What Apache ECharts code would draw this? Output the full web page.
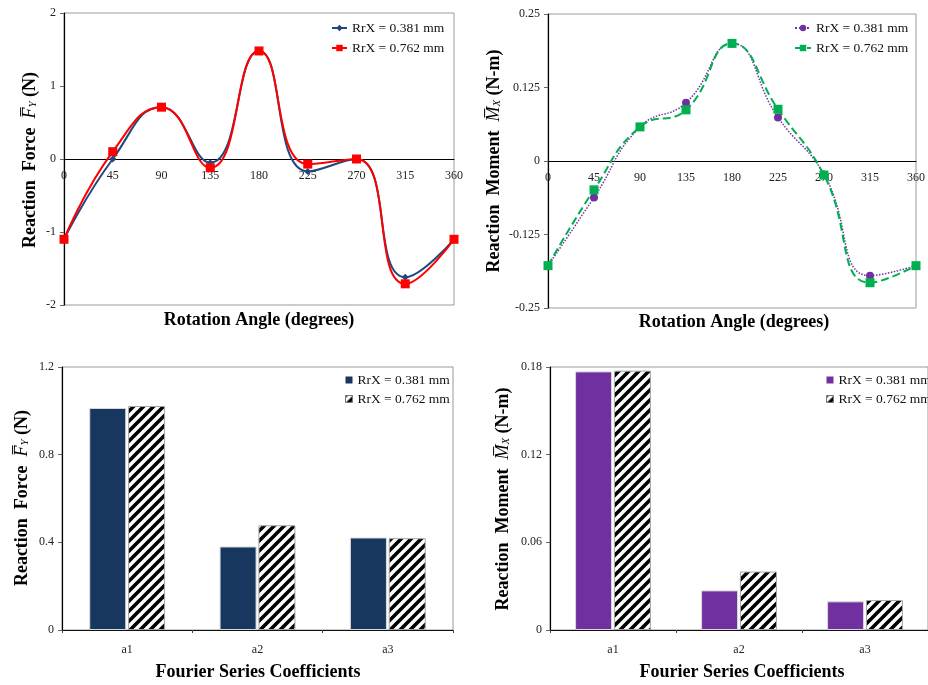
<!DOCTYPE html>
<html>
<head>
<meta charset="utf-8">
<script src="https://cdn.jsdelivr.net/npm/echarts@6/dist/echarts.min.js"></script>
<style>
html,body{margin:0;padding:0;background:#fff;}
#chart{width:928px;height:685px;}
</style>
</head>
<body>
<div id="chart"></div>
<script>
// ---- data ----
const angles = [0, 45, 90, 135, 180, 225, 270, 315, 360];
const fy381 = [-1.10, 0.00, 0.71, -0.05, 1.48, -0.17, 0.00, -1.62, -1.10];
const fy762 = [-1.10, 0.10, 0.71, -0.12, 1.48, -0.07, 0.00, -1.71, -1.10];
const mx381 = [-0.178, -0.062, 0.058, 0.099, 0.200, 0.074, -0.023, -0.195, -0.178];
const mx762 = [-0.178, -0.049, 0.058, 0.087, 0.200, 0.088, -0.024, -0.207, -0.178];
const coeffs = ['a1', 'a2', 'a3'];
const fyCoef381 = [1.013, 0.381, 0.422];
const fyCoef762 = [1.022, 0.478, 0.419];
const mxCoef381 = [0.177, 0.0271, 0.0196];
const mxCoef762 = [0.1775, 0.040, 0.0205];
const seriesNames = ['RrX = 0.381 mm', 'RrX = 0.762 mm'];
const angleTicks = [0, 360, 45];
const fyRange = [-2, 2, 1];
const mxRange = [-0.25, 0.25, 0.125];
const fyCoefRange = [0, 1.2, 0.4];
const mxCoefRange = [0, 0.18, 0.06];

// ---- helpers ----
const SERIF = '"Liberation Serif", "Times New Roman", serif';
function pairs(xs, ys) { return xs.map((x, i) => [x, ys[i]]); }

function hatch() {
  const c = document.createElement('canvas');
  const s = 10;
  c.width = s; c.height = s;
  const g = c.getContext('2d');
  g.fillStyle = '#fff';
  g.fillRect(0, 0, s, s);
  g.strokeStyle = '#000';
  g.lineWidth = 3.6;
  g.lineCap = 'square';
  for (let k = -1; k <= 1; k++) {
    g.beginPath();
    g.moveTo(k * s - 1, s + 1);
    g.lineTo(k * s + s + 1, -1);
    g.stroke();
  }
  return { image: c, repeat: 'repeat' };
}
const hatchFill = hatch();

const gridBoxes = [
  { left: 64, top: 13, width: 390, height: 292 },
  { left: 548, top: 14, width: 372, height: 294 },
  { left: 62, top: 367, width: 391, height: 263 },
  { left: 550, top: 367, width: 384, height: 263 }
];
const grids = gridBoxes.map(g => Object.assign({ show: true, borderColor: '#9a9a9a', borderWidth: 1, backgroundColor: 'transparent', containLabel: false }, g));

const labelStyle = { fontFamily: SERIF, fontSize: 12, color: '#222' };

// x axis crossing at y = 0 (moved with offset, measured from the grid bottom)
function valueX(gi, yr) {
  const h = gridBoxes[gi].height;
  const zeroFrac = (0 - yr[0]) / (yr[1] - yr[0]);
  return {
    type: 'value', gridIndex: gi, min: angleTicks[0], max: angleTicks[1], interval: angleTicks[2],
    position: 'bottom', offset: -h * zeroFrac,
    axisLine: { show: true, onZero: false, lineStyle: { color: '#000', width: 1 } },
    axisTick: { show: false },
    axisLabel: Object.assign({ margin: 11, showMinLabel: true, showMaxLabel: true }, labelStyle),
    splitLine: { show: false }
  };
}
function valueY(gi, r) {
  return {
    type: 'value', gridIndex: gi, min: r[0], max: r[1], interval: r[2],
    axisLine: { show: true, onZero: false, lineStyle: { color: '#000', width: 1.2 } },
    axisTick: { show: true, inside: false, length: 4, lineStyle: { color: '#666' } },
    axisLabel: Object.assign({ margin: 8 }, labelStyle),
    splitLine: { show: false }
  };
}
function catX(gi) {
  return {
    type: 'category', gridIndex: gi, data: coeffs, boundaryGap: true,
    axisLine: { show: true, lineStyle: { color: '#111', width: 1 } },
    axisTick: { show: true, inside: false, length: 3, alignWithLabel: false, lineStyle: { color: '#444' } },
    axisLabel: Object.assign({ margin: 14 }, labelStyle),
    splitLine: { show: false }
  };
}

function lineSeries(id, gi, ys, color, symbol, size, lineType, width) {
  return {
    id: id, name: id, type: 'line', xAxisIndex: gi, yAxisIndex: gi,
    data: pairs(angles, ys), smooth: 0.5, symbol: symbol, symbolSize: size,
    showSymbol: true, z: 3,
    lineStyle: { color: color, width: width, type: lineType },
    itemStyle: { color: color, borderWidth: 0 },
    emphasis: { disabled: true }
  };
}
function barSeries(id, gi, ys, fill, border) {
  return {
    id: id, name: id, type: 'bar', xAxisIndex: gi, yAxisIndex: gi,
    data: ys, barWidth: 37, barGap: '5%',
    itemStyle: { color: fill, borderColor: border, borderWidth: 1 },
    emphasis: { disabled: true }
  };
}

const legendText = { fontFamily: SERIF, fontSize: 13.5, color: '#111' };
const nameMap = {
  tl1: seriesNames[0], tl2: seriesNames[1], tr1: seriesNames[0], tr2: seriesNames[1],
  bl1: seriesNames[0], bl2: seriesNames[1], br1: seriesNames[0], br2: seriesNames[1]
};
function legend(ids, left, top, iw, ih, gap, barIcons) {
  const l = {
    orient: 'vertical', left: left, top: top, itemWidth: iw, itemHeight: ih, itemGap: gap,
    data: ids, selectedMode: false, textStyle: legendText,
    formatter: n => nameMap[n], padding: 0
  };
  if (barIcons) {
    l.data = [
      { name: ids[0], icon: 'rect', itemStyle: { borderWidth: 0 } },
      { name: ids[1], icon: 'rect', itemStyle: { borderColor: '#777', borderWidth: 1 } }
    ];
  }
  return l;
}

function yTitle(x, y, main, sym, sub, unit) {
  return {
    type: 'text', x: x, y: y, rotation: Math.PI / 2,
    style: {
      text: '{b|' + main + '}{f|' + sym + '\u0305}{s|' + sub + '}{b| ' + unit + '}',
      align: 'center', verticalAlign: 'middle',
      rich: {
        b: { fontFamily: SERIF, fontSize: 18, fontWeight: 'bold', fill: '#000', color: '#000' },
        f: { fontFamily: SERIF, fontSize: 18, fontStyle: 'italic', fill: '#000', color: '#000' },
        s: { fontFamily: SERIF, fontSize: 11, fontStyle: 'italic', fill: '#000', color: '#000', padding: [6, 0, 0, 0] }
      }
    }
  };
}
function xTitle(x, y, text) {
  return {
    type: 'text', x: x, y: y,
    style: { text: text, align: 'center', verticalAlign: 'middle', font: 'bold 18px ' + SERIF, fill: '#000' }
  };
}

const option = {
  animation: false,
  backgroundColor: '#fff',
  grid: grids,
  xAxis: [valueX(0, fyRange), valueX(1, mxRange), catX(2), catX(3)],
  yAxis: [valueY(0, fyRange), valueY(1, mxRange), valueY(2, fyCoefRange), valueY(3, mxCoefRange)],
  legend: [
    legend(['tl1', 'tl2'], 331, 21, 15, 8, 6),
    legend(['tr1', 'tr2'], 794, 21, 16, 8, 6),
    legend(['bl1', 'bl2'], 345, 373, 7, 7, 5, true),
    legend(['br1', 'br2'], 826, 373, 7, 7, 5, true)
  ],
  series: [
    lineSeries('tl1', 0, fy381, '#1F497D', 'diamond', 7, 'solid', 2),
    lineSeries('tl2', 0, fy762, '#FF0000', 'rect', 9, 'solid', 2),
    lineSeries('tr1', 1, mx381, '#7030A0', 'circle', 8, 'dotted', 1.5),
    lineSeries('tr2', 1, mx762, '#00B050', 'rect', 9, 'dashed', 2),
    barSeries('bl1', 2, fyCoef381, '#17375E', '#d9d9d9'),
    barSeries('bl2', 2, fyCoef762, hatchFill, '#a6a6a6'),
    barSeries('br1', 3, mxCoef381, '#7030A0', '#d9d9d9'),
    barSeries('br2', 3, mxCoef762, hatchFill, '#a6a6a6')
  ],
  graphic: [
    yTitle(30, 160, 'Reaction  Force  ', 'F', 'Y', '(N)'),
    yTitle(494, 161, 'Reaction  Moment  ', 'M', 'X', '(N-m)'),
    yTitle(22, 498, 'Reaction  Force  ', 'F', 'Y', '(N)'),
    yTitle(503, 499, 'Reaction  Moment  ', 'M', 'X', '(N-m)'),
    xTitle(259, 320, 'Rotation Angle (degrees)'),
    xTitle(734, 322, 'Rotation Angle (degrees)'),
    xTitle(258, 672, 'Fourier Series Coefficients'),
    xTitle(742, 672, 'Fourier Series Coefficients')
  ]
};

const chart = echarts.init(document.getElementById('chart'), null, { renderer: 'canvas' });
chart.setOption(option);
</script>
</body>
</html>
